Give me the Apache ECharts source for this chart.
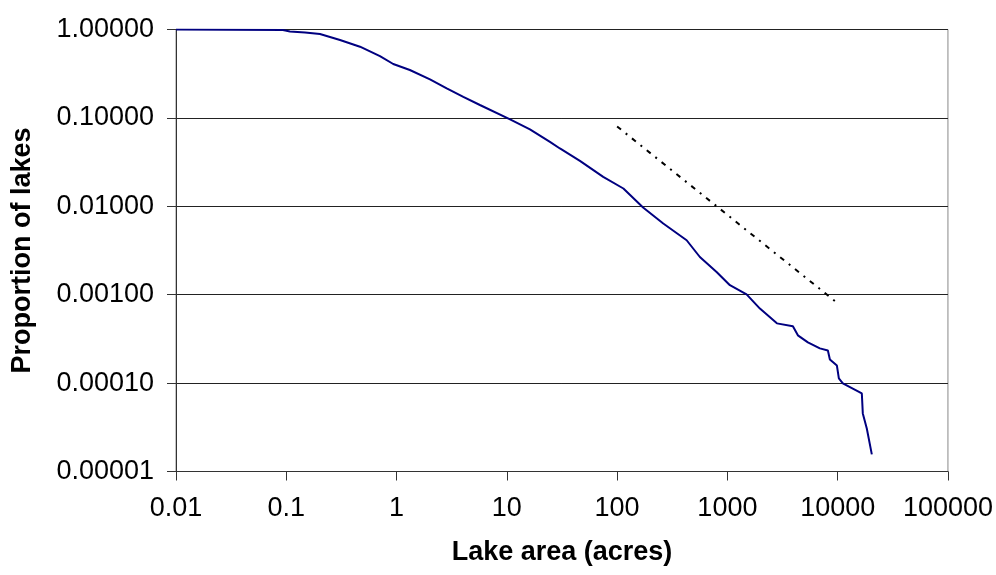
<!DOCTYPE html>
<html>
<head>
<meta charset="utf-8">
<script src="https://cdn.jsdelivr.net/npm/echarts@6/dist/echarts.min.js"></script>
<style>
  html, body { margin: 0; padding: 0; background: #fff; }
  #container { width: 996px; height: 575px; }
</style>
</head>
<body>
<div id="container"></div>
<script>
// lake area (acres) and cumulative proportion
var lakeArea = [0.01, 0.0933, 0.108, 0.148, 0.202, 0.307, 0.466, 0.707, 0.933, 1.32, 2.01, 2.85, 4.03, 5.70,
    10.7, 16.2, 24.6, 30.3, 46.0, 74.8, 114, 172, 262, 427, 563, 798, 1054, 1493, 1972, 2812,
    3926, 4357, 5370, 6897, 8150, 8500, 9840, 10250, 11140, 16560, 16900, 18370, 20400];
var proportion = [1, 0.987, 0.949, 0.925, 0.89, 0.76, 0.639, 0.501, 0.407, 0.348, 0.273, 0.216, 0.173, 0.140,
    0.0962, 0.0741, 0.0536, 0.0451, 0.0327, 0.0215, 0.0159, 0.00969, 0.00638, 0.00413, 0.00267, 0.00181, 0.00128, 0.00101, 0.000696, 0.000474,
    0.000439, 0.000347, 0.000289, 0.000247, 0.000234, 0.000185, 0.000158, 0.000113, 0.0000991, 0.0000764, 0.0000454, 0.0000307, 0.0000156];

// reference slope line
var refX = [100, 10000];
var refY = [0.08, 0.0008];

var xTickLabels = ['0.01', '0.1', '1', '10', '100', '1000', '10000', '100000'];
var yTickLabels = ['0.00001', '0.00010', '0.00100', '0.01000', '0.10000', '1.00000'];

function pairs(xs, ys) {
    var out = [];
    for (var i = 0; i < xs.length; i++) out.push([xs[i], ys[i]]);
    return out;
}

var myChart = echarts.init(document.getElementById('container'));
var font = 'Liberation Sans, Arial, sans-serif';

var option = {
    backgroundColor: '#fff',
    animation: false,
    grid: {
        left: 176, right: 48, top: 29.5, bottom: 103.5,
        show: true, borderColor: '#888', borderWidth: 1
    },
    xAxis: {
        type: 'log', logBase: 10, min: 0.01, max: 100000,
        name: 'Lake area (acres)', nameLocation: 'middle', nameGap: 68,
        nameTextStyle: { fontFamily: font, fontSize: 27, fontWeight: 'bold', color: '#000' },
        axisLine: { lineStyle: { color: '#333', width: 1 } },
        axisTick: { show: true, length: 9, lineStyle: { color: '#333' } },
        minorTick: { show: false },
        splitLine: { show: false },
        axisLabel: {
            margin: 24, fontFamily: font, fontSize: 27, color: '#000',
            formatter: function (v) { return xTickLabels[Math.round(Math.log10(v)) + 2]; }
        }
    },
    yAxis: {
        type: 'log', logBase: 10, min: 0.00001, max: 1,
        name: 'Proportion of lakes', nameLocation: 'middle', nameGap: 140,
        nameTextStyle: { fontFamily: font, fontSize: 27, fontWeight: 'bold', color: '#000' },
        axisLine: { show: true, lineStyle: { color: '#333', width: 1 } },
        axisTick: { show: true, length: 9, lineStyle: { color: '#333' } },
        splitLine: { show: true, lineStyle: { color: '#222', width: 1 } },
        axisLabel: {
            margin: 22, fontFamily: font, fontSize: 27, color: '#000',
            formatter: function (v) { return yTickLabels[Math.round(Math.log10(v)) + 5]; }
        }
    },
    series: [
        {
            name: 'lakes',
            type: 'line',
            data: pairs(lakeArea, proportion),
            showSymbol: false,
            lineStyle: { color: '#000080', width: 2 }
        },
        {
            name: 'slope',
            type: 'line',
            data: pairs(refX, refY),
            showSymbol: false,
            lineStyle: { color: '#000', width: 2, type: [5, 6, 2, 6] }
        }
    ]
};
myChart.setOption(option);
</script>
</body>
</html>
